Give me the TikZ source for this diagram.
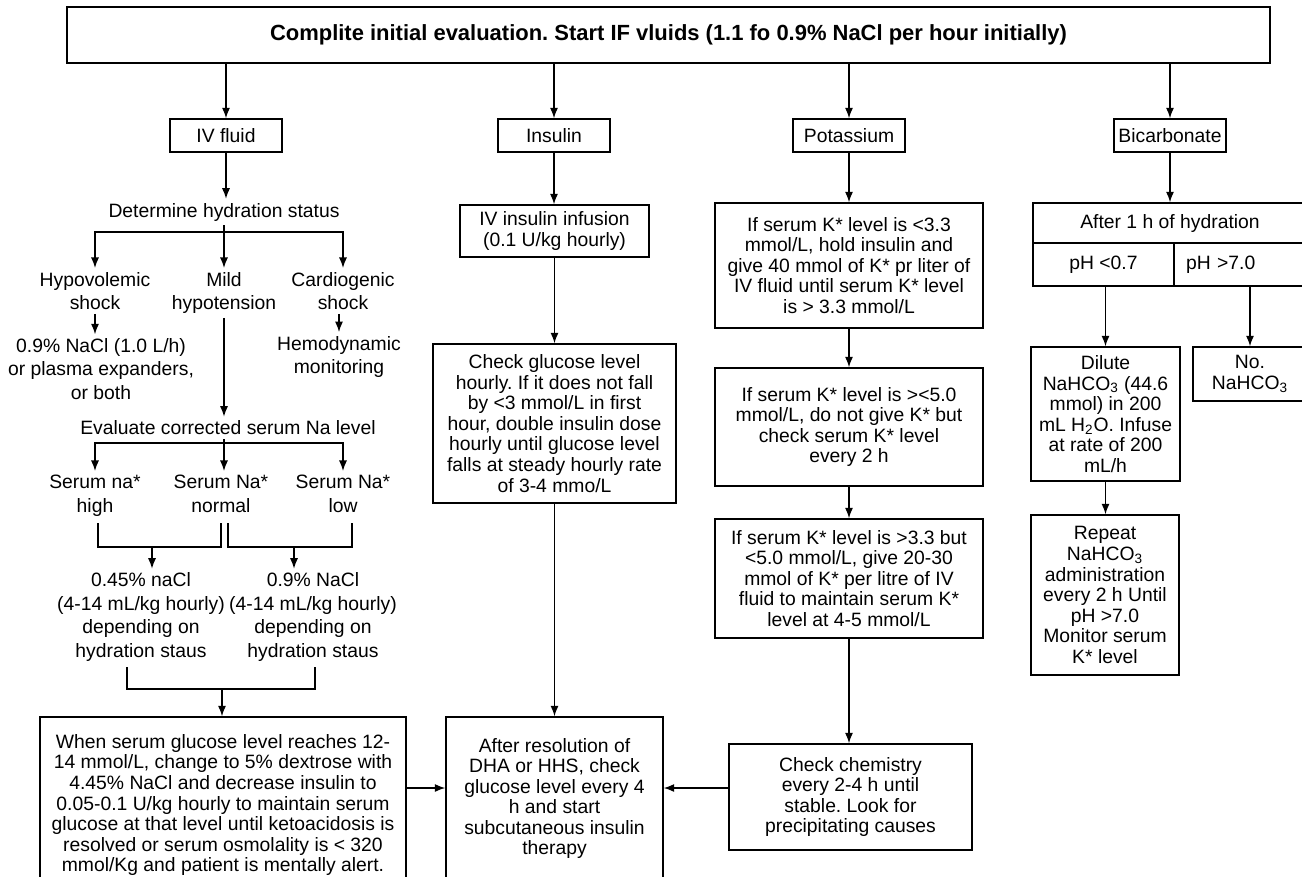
\documentclass[tikz,border=0pt]{standalone}
\usepackage{fontspec}
\setmainfont{Liberation Sans}
\usepackage{tikz}
\usetikzlibrary{arrows.meta}

\tikzset{
    box/.style={draw, line width=0.8pt, align=center, inner sep=1pt,
        font=\fontsize{11}{11.7}\selectfont},
    catbox/.style={box, minimum width=2.24cm, minimum height=0.66cm},
    txt/.style={align=center, inner sep=2pt, font=\fontsize{11}{13.3}\selectfont},
    cellright/.style={box, inner xsep=0.24cm, text width=2.18cm, align=left, minimum height=0.86cm}
}

\begin{document}
\frenchspacing
\begin{tikzpicture}[>={Latex[length=6pt,width=4.6pt]}, x=0.02cm, y=-0.02cm, line width=0.8pt]
    \useasboundingbox (0,0) rectangle (1302,876);
    \clip (0,0) rectangle (1302,876);

    % 1. Title box and the four branches
    \node[box, font=\bfseries\fontsize{12.5}{14}\selectfont, minimum width=24.06cm, minimum height=1.12cm] (title) at (668.5,35)
        {Complite initial evaluation. Start IF vluids (1.1 fo 0.9\% NaCl per hour initially)};
    \node[catbox] (ivf) at (226,135.5) {IV fluid};
    \node[catbox] (ins) at (554,135.5) {Insulin};
    \node[catbox] (pot) at (849,135.5) {Potassium};
    \node[catbox] (bic) at (1170,135.5) {Bicarbonate};
    \foreach \n in {ivf, ins, pot, bic}
        \draw[->] (title.south -| \n.north) -- (\n.north);

    % 2. IV fluid column
    \node[txt] (dhs) at (224,212) {Determine hydration status};
    \draw[->] (ivf.south) -- (ivf.south |- dhs.north);
    \coordinate (br1) at (224,232);
    \node[txt, anchor=north] (hyp) at (95,268) {Hypovolemic\\shock};
    \node[txt, anchor=north] (mild) at (224,268) {Mild\\hypotension};
    \node[txt, anchor=north] (card) at (343,268) {Cardiogenic\\shock};
    \draw (dhs.south) -- (br1);
    \draw[->] (br1) -| (hyp.north);
    \draw[->] (br1) -- (mild.north);
    \draw[->] (br1) -| (card.north);

    \node[txt] (nacl) at (101,369) {0.9\% NaCl (1.0 L/h)\\or plasma expanders,\\or both};
    \node[txt] (hemo) at (339,357) {Hemodynamic\\monitoring};
    \draw[->] (hyp.south) -- (hyp.south |- nacl.north);
    \draw[->] (hemo.north |- card.south) -- (hemo.north);

    % Sodium level
    \node[txt] (evna) at (228,428) {Evaluate corrected serum Na level};
    \draw[->] (mild.south) -- (mild.south |- evna.north);
    \coordinate (br2) at (224,443);
    \draw (mild.south |- evna.south) -- (br2);
    \node[txt, anchor=north] (snh) at (95,471) {Serum na*\\high};
    \node[txt, anchor=north] (snn) at (221,471) {Serum Na*\\normal};
    \node[txt, anchor=north] (snl) at (343,471) {Serum Na*\\low};
    \draw[->] (br2) -| (snh.north);
    \draw[->] (br2) -- (br2 |- snn.north);
    \draw[->] (br2) -| (snl.north);

    \node[txt] (half) at (141,617) {0.45\% naCl\\(4-14 mL/kg hourly)\\depending on\\hydration staus};
    \node[txt] (full) at (313,617) {0.9\% NaCl\\(4-14 mL/kg hourly)\\depending on\\hydration staus};
    \coordinate (b1l) at (98,523);
    \coordinate (b1r) at (221,523);
    \coordinate (b1m) at (152,547);
    \draw (b1l) |- (b1m) -| (b1r);
    \draw[->] (b1m) -- (b1m |- half.north);
    \coordinate (b2l) at (228,523);
    \coordinate (b2r) at (352,523);
    \coordinate (b2m) at (294,547);
    \draw (b2l) |- (b2m) -| (b2r);
    \draw[->] (b2m) -- (b2m |- full.north);

    \node[box, minimum width=7.32cm, minimum height=3.52cm] (fluidbox) at (223,805)
        {When serum glucose level reaches 12-\\14 mmol/L, change to 5\% dextrose with\\4.45\% NaCl and decrease insulin to\\0.05-0.1 U/kg hourly to maintain serum\\glucose at that level until ketoacidosis is\\resolved or serum osmolality is < 320\\mmol/Kg and patient is mentally alert.};
    \coordinate (b3l) at (127,667);
    \coordinate (b3r) at (315,667);
    \coordinate (b3m) at (222,689);
    \draw (b3l) |- (b3m) -| (b3r);
    \draw[->] (b3m) -- (b3m |- fluidbox.north);

    % 3. Insulin column
    \node[box, minimum width=3.78cm, minimum height=1.04cm] (ivins) at (554.5,231) {IV insulin infusion\\(0.1 U/kg hourly)};
    \node[box, minimum width=4.86cm, minimum height=3.18cm] (gluc) at (554.5,423.5)
        {Check glucose level\\hourly. If it does not fall\\by <3 mmol/L in first\\hour, double insulin dose\\hourly until glucose level\\falls at steady hourly rate\\of 3-4 mmo/L};
    \node[box, minimum width=4.34cm, minimum height=3.26cm] (after) at (554.5,798.5)
        {After resolution of\\DHA or HHS, check\\glucose level every 4\\h and start\\subcutaneous insulin\\therapy};
    \draw[->] (ins.south) -- (ins.south |- ivins.north);
    \draw[->] (ivins.south) -- (ivins.south |- gluc.north);
    \draw[->] (gluc.south) -- (gluc.south |- after.north);

    % 4. Potassium column
    \node[box, minimum width=5.36cm, minimum height=2.5cm] (kone) at (849,265.5)
        {If serum K* level is <3.3\\mmol/L, hold insulin and\\give 40 mmol of K* pr liter of\\IV fluid until serum K* level\\is > 3.3 mmol/L};
    \node[box, minimum width=5.36cm, minimum height=2.36cm] (ktwo) at (849,427)
        {If serum K* level is ><5.0\\mmol/L, do not give K* but\\check serum K* level\\every 2 h};
    \node[box, minimum width=5.36cm, minimum height=2.38cm] (kthree) at (849,578.5)
        {If serum K* level is >3.3 but\\<5.0 mmol/L, give 20-30\\mmol of K* per litre of IV\\fluid to maintain serum K*\\level at 4-5 mmol/L};
    \node[box, minimum width=4.86cm, minimum height=2.12cm] (chem) at (850.5,797)
        {Check chemistry\\every 2-4 h until\\stable. Look for\\precipitating causes};
    \draw[->] (pot.south) -- (pot.south |- kone.north);
    \draw[->] (kone.south) -- (kone.south |- ktwo.north);
    \draw[->] (ktwo.south) -- (ktwo.south |- kthree.north);
    \draw[->] (kthree.south) -- (kthree.south |- chem.north);

    % Joining the bottom row
    \coordinate (lvl) at (0,788);
    \draw[->] (fluidbox.east |- lvl) -- (after.west |- lvl);
    \draw[->] (chem.west |- lvl) -- (after.east |- lvl);

    % 5. Bicarbonate column
    \node[box, minimum width=5.48cm, minimum height=0.8cm] (aft) at (1170,223) {After 1 h of hydration};
    \node[box, minimum width=2.82cm, minimum height=0.86cm] (phlo) at (1103.5,264.5) {pH <0.7};
    \node[cellright] (phhi) at (1240.5,264.5) {pH >7.0};
    \draw[->] (bic.south) -- (bic.south |- aft.north);

    \node[box, minimum width=2.98cm, minimum height=2.68cm] (dil) at (1105.5,414)
        {Dilute\\NaHCO\textsubscript{3} (44.6\\mmol) in 200\\mL H\textsubscript{2}O. Infuse\\at rate of 200\\mL/h};
    \node[box, minimum width=2.28cm, minimum height=1.08cm] (nobic) at (1250,374) {No.\\NaHCO\textsubscript{3}};
    \node[box, minimum width=2.96cm, minimum height=3.2cm] (rep) at (1105,595)
        {Repeat\\NaHCO\textsubscript{3}\\administration\\every 2 h Until\\pH >7.0\\Monitor serum\\K* level};
    \draw[->] (dil.north |- phlo.south) -- (dil.north);
    \draw[->] (nobic.north |- phhi.south) -- (nobic.north);
    \draw[->] (dil.south) -- (dil.south |- rep.north);

\end{tikzpicture}
\end{document}
